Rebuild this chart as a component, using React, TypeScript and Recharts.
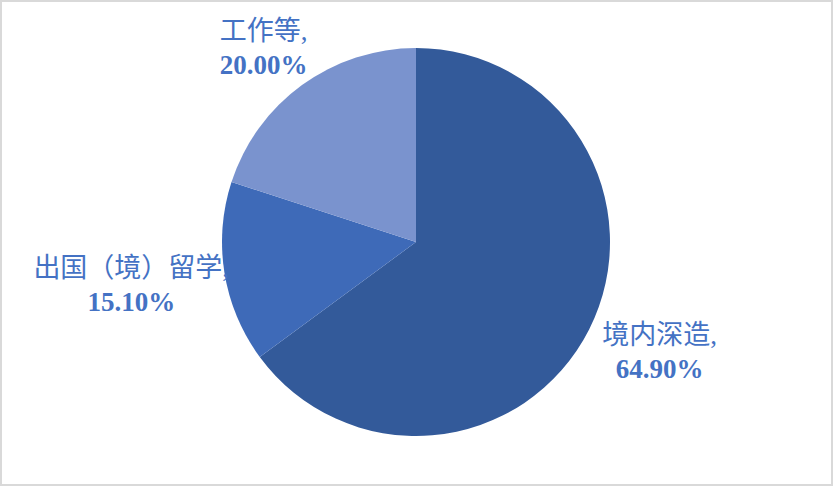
import { Cell, Pie, PieChart } from "recharts";

const categories = ["境内深造", "出国（境）留学", "工作等"];
const shares = [64.9, 15.1, 20.0];
const colors = ["#335A9A", "#3E6AB8", "#7A93CE"];

const data = categories.map((name, i) => ({ name, value: shares[i] }));

const RADIAN = Math.PI / 180;
const LABEL_FONT = "'Liberation Serif', 'Noto Sans CJK SC', serif";
// small per-slice nudges so labels sit where the original's "best fit" put them
const nudges = [
  [17, -13],
  [-34, -6],
  [-3, 3],
];

function SliceLabel(props: any) {
  const { cx, cy, midAngle, outerRadius, index, name, value } = props;
  const r = outerRadius + 60;
  const x = cx + r * Math.cos(-midAngle * RADIAN) + nudges[index][0];
  const y = cy + r * Math.sin(-midAngle * RADIAN) + nudges[index][1];
  return (
    <text x={x} y={y} textAnchor="middle" fill="#4472C4" fontFamily={LABEL_FONT} fontSize={27}>
      <tspan x={x} y={y}>{`${name},`}</tspan>
      <tspan x={x} y={y + 34} fontWeight="bold">{`${Number(value).toFixed(2)}%`}</tspan>
    </text>
  );
}

export default function App() {
  return (
    <div
      style={{
        position: "relative",
        width: 833,
        height: 486,
        background: "#fff",
        boxShadow: "inset 0 0 0 2px #d9d9d9",
      }}
    >
      <style>{`body{margin:0}`}</style>
      <PieChart width={833} height={486} margin={{ top: 0, right: 0, bottom: 0, left: 0 }}>
        {/* label layer, drawn underneath so the pie covers any overlap */}
        <Pie
          data={data}
          dataKey="value"
          cx={416}
          cy={242}
          outerRadius={194}
          startAngle={90}
          endAngle={-270}
          fill="none"
          stroke="none"
          label={SliceLabel}
          labelLine={false}
          isAnimationActive={false}
        />
        <Pie
          data={data}
          dataKey="value"
          cx={416}
          cy={242}
          outerRadius={194}
          startAngle={90}
          endAngle={-270}
          stroke="none"
          labelLine={false}
          isAnimationActive={false}
        >
          {data.map((d, i) => (
            <Cell key={d.name} fill={colors[i]} />
          ))}
        </Pie>
      </PieChart>
    </div>
  );
}
